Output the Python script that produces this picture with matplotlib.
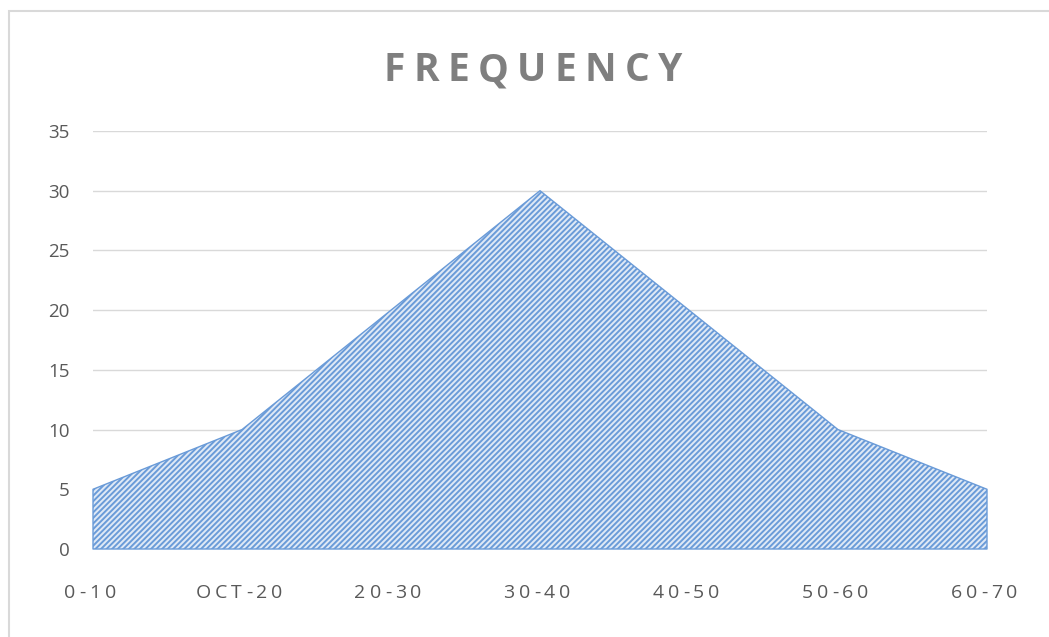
import matplotlib.pyplot as plt
from matplotlib.patches import Rectangle
from matplotlib.font_manager import FontProperties

bins = ["0-10", "OCT-20", "20-30", "30-40", "40-50", "50-60", "60-70"]
freq = [5, 10, 20, 30, 20, 10, 5]
y_ticks = [0, 5, 10, 15, 20, 25, 30, 35]

W, H = 1049, 637
plt.rcParams['font.family'] = 'Open Sans'
plt.rcParams['hatch.linewidth'] = 1.4

fig = plt.figure(figsize=(W / 100, H / 100), dpi=100)

# light frame round the chart
fig.patches.append(Rectangle((9 / W, -0.1), 1.2, 1.1 - 11 / H, transform=fig.transFigure,
                             fill=False, edgecolor='#d9d9d9', lw=1.5))

ax = fig.add_axes([93 / W, 1 - 549 / H, (987 - 93) / W, (549 - 131) / H])
x = list(range(len(bins)))
ax.fill_between(x, freq, facecolor='#dfe9f6', hatch='//////', edgecolor='#6a9bd8',
                linewidth=1, clip_on=False, zorder=2)
ax.set_xlim(0, len(bins) - 1)
ax.set_ylim(0, 35)
ax.set_yticks(y_ticks)
ax.yaxis.grid(True, color='#d9d9d9', lw=1)
ax.set_axisbelow(True)
for s in ax.spines.values():
    s.set_visible(False)
ax.tick_params(axis='y', length=0, pad=17, labelsize=13.5, labelcolor='#595959')
ax.set_xticks([])

renderer = fig.canvas.get_renderer()


def spaced(x_px, y_px, s, size, gap, color, weight='normal'):
    # draw text letter by letter with extra tracking, centred on x_px, baseline at y_px
    fp = FontProperties(family='Open Sans', size=size, weight=weight)
    widths = [renderer.get_text_width_height_descent(c, fp, ismath=False)[0] for c in s]
    total = sum(widths) + gap * (len(s) - 1)
    cx = x_px - total / 2
    for c, w in zip(s, widths):
        fig.text(cx / W, 1 - y_px / H, c, fontproperties=fp, color=color,
                 ha='left', va='baseline')
        cx += w + gap


spaced(533, 81, "FREQUENCY", 28, 8.5, '#7f7f7f', weight='bold')

for i, lab in enumerate(bins):
    px = ax.transData.transform((i, 0))[0]
    spaced(px - 3, 598, lab, 14, 4, '#595959')

fig.savefig('out.png', dpi=100)
